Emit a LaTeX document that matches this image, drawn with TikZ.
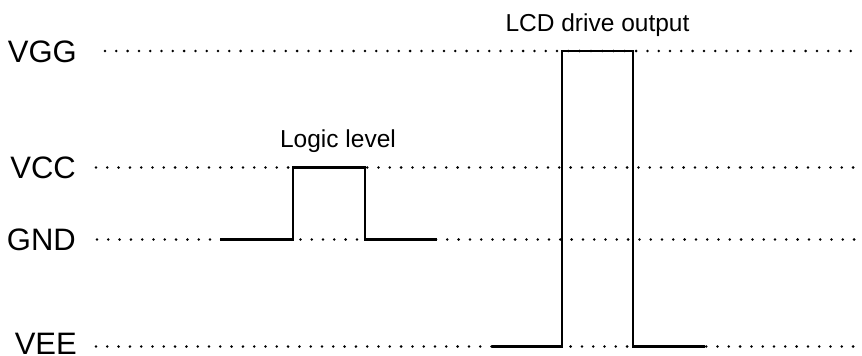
\documentclass[tikz,border=0pt]{standalone}
\usepackage{fontspec}
\setmainfont{Liberation Sans}

\begin{document}
\begin{tikzpicture}[x=1pt,y=-1pt,
  level/.style={line width=2.8pt, line cap=round, dash pattern=on 0pt off 11.3pt},
  signal/.style={line width=2.5pt},
  lvlname/.style={anchor=base east, inner sep=0pt, text depth=0pt, font=\fontsize{31}{36}\selectfont},
  caption/.style={anchor=base, inner sep=0pt, font=\fontsize{24.5}{29}\selectfont}]
\useasboundingbox (0,0) rectangle (862,356);
%% level names
\node[lvlname] (vgg) at (77,62) {VGG};
\node[lvlname] (vcc) at (76,178.5) {VCC};
\node[lvlname] (gnd) at (76,250.5) {GND};
\node[lvlname] (vee) at (77,354) {VEE};
%% dotted levels
\coordinate (vggL) at (105,51);  \coordinate (vggR) at (858,51);
\coordinate (vccL) at (96,167.5); \coordinate (vccR) at (858,167.5);
\coordinate (gndL) at (97,239.5); \coordinate (gndR) at (858,239.5);
\coordinate (veeL) at (96,346.5); \coordinate (veeR) at (858,346.5);
\draw[level] (vggL) -- (vggR); %%VGG
\draw[level] (vccL) -- (vccR); %%VCC
\draw[level] (gndL) -- (gndR); %%GND
\draw[level] (veeL) -- (veeR); %%VEE
%% logic pulse
\coordinate (lgA) at (220,239.5);
\coordinate (lgB) at (293,167.5);
\coordinate (lgC) at (365,239.5);
\coordinate (lgD) at (437,239.5);
\draw[signal] (lgA) -| (lgB) -| (lgC) -- (lgD);
\node[caption] (logic) at (338,147.5) {Logic level};
%% lcd pulse
\coordinate (lcA) at (492,346.5);
\coordinate (lcB) at (562,51);
\coordinate (lcC) at (633,346.5);
\coordinate (lcD) at (705,346.5);
\draw[signal] (lcA) -| (lcB) -| (lcC) -- (lcD);
\node[caption] (lcd) at (597.5,31.5) {LCD drive output};
\end{tikzpicture}
\end{document}
